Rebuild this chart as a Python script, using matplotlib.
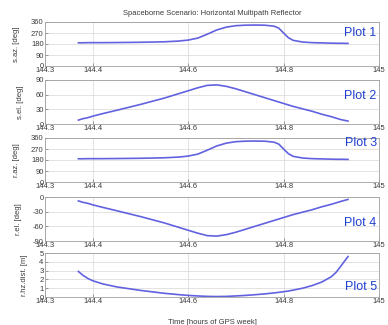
import matplotlib
matplotlib.use("Agg")
import matplotlib.pyplot as plt

# time axis (hours of GPS week)
t = [144.37, 144.38, 144.39, 144.40, 144.42, 144.45, 144.50, 144.55, 144.58, 144.60,
     144.62, 144.64, 144.66, 144.68, 144.70, 144.72, 144.74, 144.76, 144.78, 144.79,
     144.80, 144.81, 144.82, 144.84, 144.86, 144.88, 144.90, 144.91, 144.92, 144.935]
s_az = [190, 190, 191, 191, 191, 192, 194, 198, 204, 212,
        228, 260, 295, 318, 330, 334, 335, 334, 326, 310,
        270, 232, 210, 196, 191, 189, 187, 186, 186, 185]
s_el = [8, 11, 13, 16, 21, 28, 40, 53, 62, 68,
        74, 79, 80, 77, 72, 66, 60, 54, 48, 45,
        42, 39, 36, 31, 26, 20, 15, 12, 9, 6]
r_az = s_az
r_el = [-8, -11, -13, -16, -21, -28, -40, -53, -62, -68,
        -74, -79, -80, -77, -72, -66, -60, -54, -48, -45,
        -42, -39, -36, -31, -26, -20, -15, -12, -9, -5]
r_dist = [2.9, 2.45, 2.1, 1.85, 1.5, 1.15, 0.75, 0.42, 0.27, 0.18,
          0.12, 0.07, 0.05, 0.07, 0.12, 0.18, 0.26, 0.35, 0.46, 0.53,
          0.6, 0.68, 0.78, 1.0, 1.3, 1.7, 2.3, 2.8, 3.5, 4.6]

panels = [
    (s_az, "s.az. [deg]", [0, 90, 180, 270, 360], (0, 360), "Plot 1", 0.76),
    (s_el, "s.el. [deg]", [0, 30, 60, 90], (0, 90), "Plot 2", 0.64),
    (r_az, "r.az. [deg]", [0, 90, 180, 270, 360], (0, 360), "Plot 3", 0.88),
    (r_el, "r.el. [deg]", [-90, -60, -30, 0], (-90, 0), "Plot 4", 0.40),
    (r_dist, "r.hz.dist. [m]", [0, 1, 2, 3, 4, 5], (0, 5), "Plot 5", 0.23),
]
xticks = [144.3, 144.4, 144.6, 144.8, 145]
xticklabels = ["144.3", "144.4", "144.6", "144.8", "145"]

plt.rcParams.update({"font.family": ["Liberation Sans", "DejaVu Sans"], "font.size": 5.5})
fig = plt.figure(figsize=(3.88, 3.25), dpi=100)
W, H = 388, 325
left, right = 45, 379
tops = [22, 80, 138, 197, 253]
height = 44
txt = "#3a3a3a"

for i, (vals, ylabel, yticks, ylim, tag, tag_y) in enumerate(panels):
    ax = fig.add_axes([left / W, 1 - (tops[i] + height) / H, (right - left) / W, height / H])
    ax.plot(t, vals, color="#6262e0", linewidth=1.2)
    ax.set_xlim(144.3, 145)
    ax.set_ylim(*ylim)
    ax.set_xticks(xticks)
    ax.set_xticklabels(xticklabels, fontsize=5.5, color=txt)
    ax.set_yticks(yticks)
    ax.set_yticklabels([str(v) for v in yticks], fontsize=5.5, color=txt)
    ax.tick_params(direction="in", length=2, width=0.5, pad=1, colors="#777777", labelcolor=txt)
    ax.set_ylabel(ylabel, fontsize=5.5, color=txt, labelpad=8)
    ax.grid(True, color="#d8d8d8", linewidth=0.5)
    for sp in ax.spines.values():
        sp.set_color("#a0a0a0")
        sp.set_linewidth(0.6)
    ax.text(0.993, tag_y, tag, transform=ax.transAxes, ha="right", va="center",
            fontsize=9, color="#1f3fcf")
    if i == 0:
        ax.set_title("Spaceborne Scenario: Horizontal Multipath Reflector", fontsize=5.5,
                     color=txt, pad=5)
    if i == 4:
        ax.set_xlabel("Time [hours of GPS week]", fontsize=5.5, color=txt, labelpad=10)

fig.savefig("out.png", dpi=100)
